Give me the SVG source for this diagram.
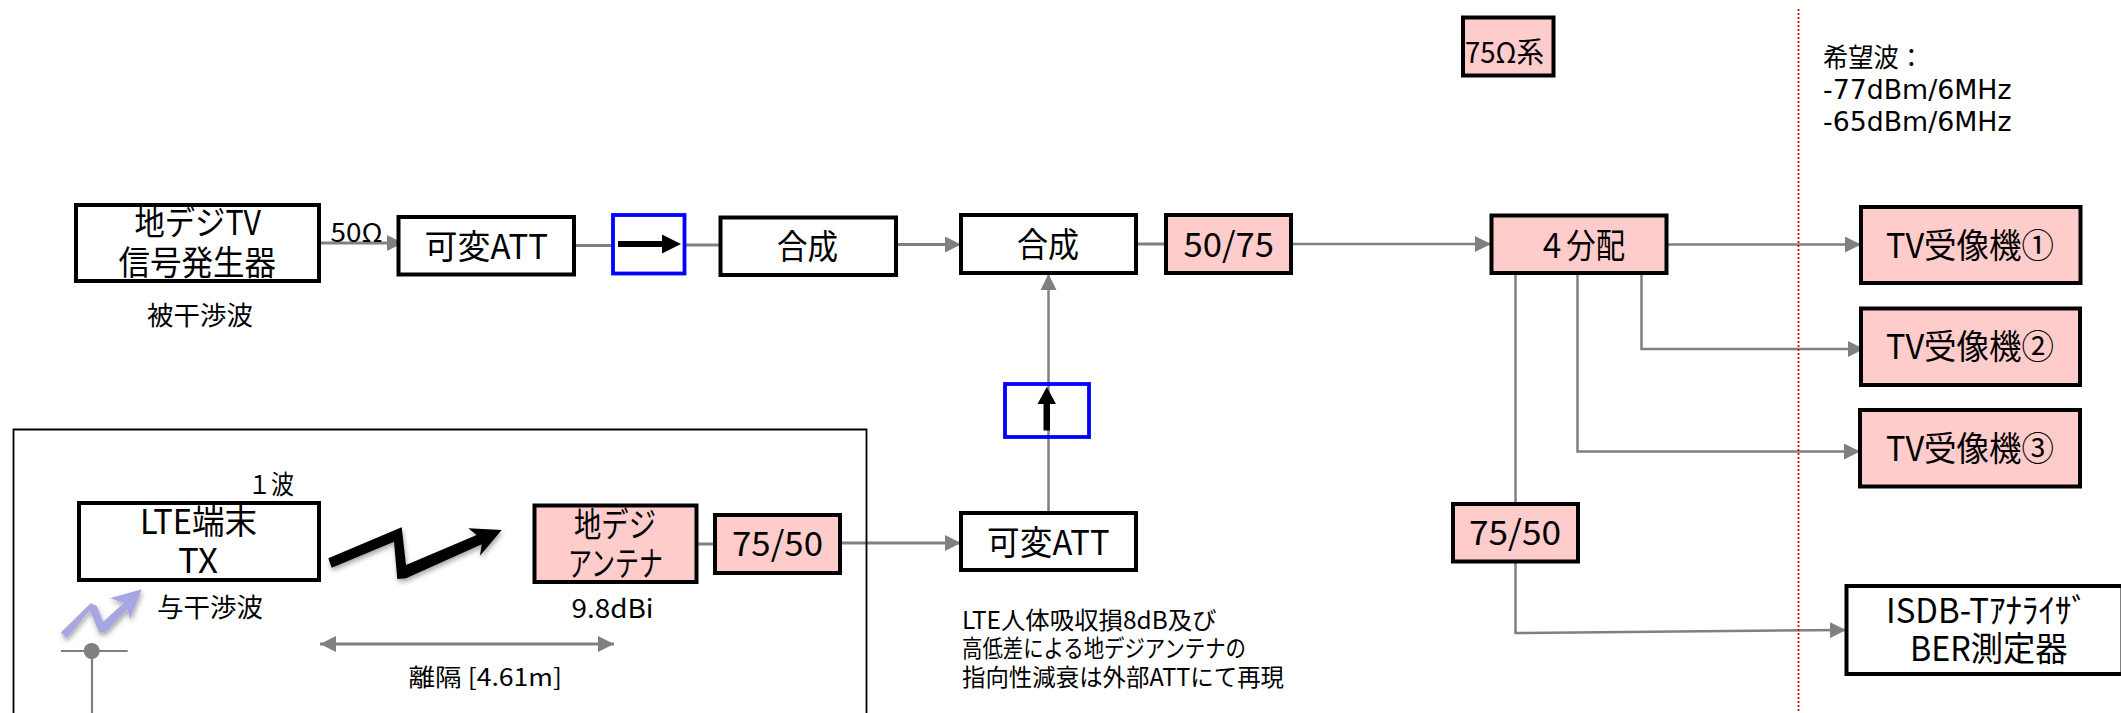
<svg xmlns="http://www.w3.org/2000/svg" width="2121" height="713" viewBox="0 0 2121 713">
<style>
text{font-family:"Noto Sans CJK JP","Noto Sans",sans-serif;fill:#000}
.b{fill:#fff;stroke:#000;stroke-width:4}
.p{fill:#ffcccc;stroke:#000;stroke-width:4}
.u{fill:none;stroke:#0000ff;stroke-width:3.8}
.c{fill:none;stroke:#808080;stroke-width:2.5}
.t{font-size:34px}
.s{font-size:26px}
.m{font-size:24px}
.l{font-family:"DejaVu Sans","Noto Sans CJK JP",sans-serif;font-size:26px}
</style>
<defs>
<marker id="a" markerUnits="userSpaceOnUse" markerWidth="16" markerHeight="16" refX="16" refY="8" orient="auto-start-reverse"><path d="M0,0L16,8L0,16z" fill="#808080"/></marker>
<filter id="sh" x="-20%" y="-20%" width="140%" height="150%"><feDropShadow dx="1" dy="3" stdDeviation="2.5" flood-color="#000" flood-opacity="0.35"/></filter>
</defs>
<g id="connectors">
<path class="c" d="M319,243H403" marker-end="url(#a)" style="stroke-width:3"/>
<path class="c" d="M574,245.500H613M684,245H721" style="stroke-width:3"/>
<path class="c" d="M896,244.500H961" marker-end="url(#a)" style="stroke-width:3"/>
<path class="c" d="M1136,244H1166" style="stroke-width:3"/>
<path class="c" d="M1291,244H1491" marker-end="url(#a)"/>
<path class="c" d="M1666,244.500H1861" marker-end="url(#a)"/>
<path class="c" d="M1641.500,273V349H1864" marker-end="url(#a)"/>
<path class="c" d="M1577.500,273V451.500H1860" marker-end="url(#a)"/>
<path class="c" d="M1515.500,273V504"/>
<path class="c" d="M1515.500,561V633L1846,630" marker-end="url(#a)"/>
<path class="c" d="M1048.500,513V274" marker-end="url(#a)"/>
<path class="c" d="M696,544H715" style="stroke-width:3"/>
<path class="c" d="M840,543H961" marker-end="url(#a)" style="stroke-width:3"/>
<path class="c" d="M320,644H614" marker-start="url(#a)" marker-end="url(#a)" style="stroke-width:3"/>
</g>
<g id="area"><path d="M13.500,713V429.500H866.500V713" fill="none" stroke="#000" stroke-width="1.800"/></g>
<g id="divider"><path d="M1798.500,9V713" fill="none" stroke="#e00000" stroke-width="1.800" stroke-dasharray="2 2"/></g>

<g id="n-signal"><rect class="b" x="76" y="205" width="243" height="76"/>
<text class="t" x="134.500" y="235" textLength="126.500" lengthAdjust="spacingAndGlyphs">地デジTV</text>
<text class="t" x="118.500" y="275" textLength="157.500" lengthAdjust="spacingAndGlyphs">信号発生器</text></g>
<g id="l-50"><text class="s" x="330.500" y="242" textLength="52" lengthAdjust="spacingAndGlyphs">50Ω</text></g>
<g id="l-hikan"><text class="s" x="147" y="325" textLength="106" lengthAdjust="spacingAndGlyphs">被干渉波</text></g>
<g id="n-att1"><rect class="b" x="398.500" y="217" width="175.500" height="57.500"/>
<text class="t" x="424.500" y="259" textLength="123.500" lengthAdjust="spacingAndGlyphs">可変ATT</text></g>
<g id="n-iso1"><rect class="u" x="613" y="215" width="71.500" height="58.500"/>
<path d="M618,241H662V234.500L681,244L662,253.500V247H618z" fill="#000"/></g>
<g id="n-comb1"><rect class="b" x="720.500" y="217.500" width="175.500" height="57.500"/>
<text class="t" x="777" y="259" textLength="61" lengthAdjust="spacingAndGlyphs">合成</text></g>
<g id="n-comb2"><rect class="b" x="961" y="215" width="175" height="58"/>
<text class="t" x="1017" y="257" textLength="62" lengthAdjust="spacingAndGlyphs">合成</text></g>
<g id="n-5075"><rect class="p" x="1166" y="215" width="125" height="58"/>
<text class="t" x="1183.500" y="257" textLength="90.500" lengthAdjust="spacingAndGlyphs">50/75</text></g>
<g id="n-iso2"><rect class="u" x="1005" y="384" width="84" height="53"/>
<path d="M1043.500,430.500V404H1037.500L1046.800,387L1056,404H1050V430.500z" fill="#000"/></g>
<g id="n-att2"><rect class="b" x="961" y="513" width="175" height="57"/>
<text class="t" x="987" y="555" textLength="122.500" lengthAdjust="spacingAndGlyphs">可変ATT</text></g>
<g id="l-note">
<text class="m" x="962" y="628.500" textLength="254.500" lengthAdjust="spacingAndGlyphs">LTE人体吸収損8dB及び</text>
<text class="m" x="962" y="657" textLength="284" lengthAdjust="spacingAndGlyphs">高低差による地デジアンテナの</text>
<text class="m" x="962" y="686" textLength="322" lengthAdjust="spacingAndGlyphs">指向性減衰は外部ATTにて再現</text></g>

<g id="n-lte"><rect class="b" x="79" y="503" width="240" height="77"/>
<text class="t" x="140" y="534" textLength="117" lengthAdjust="spacingAndGlyphs">LTE端末</text>
<text class="t" x="178" y="573" textLength="40" lengthAdjust="spacingAndGlyphs">TX</text></g>
<g id="l-1ha"><text class="s" x="248" y="494" textLength="46" lengthAdjust="spacingAndGlyphs">１波</text></g>
<g id="l-yokan"><text class="s" x="157" y="617" textLength="106" lengthAdjust="spacingAndGlyphs">与干渉波</text></g>
<g id="bolt-black"><path d="M328.300,558.300L401.700,527.300L406,565L476.700,535L468.300,528.300L501.700,530L480,555.700L481.700,544.300L406,578.300L397.300,579L394,541.700L331.700,567.700z" fill="#000" filter="url(#sh)"/></g>
<g id="bolt-purple"><path d="M60.700,632.700L90.700,603.300L96.700,606L103.300,621.700L124,602.700L110,598.300L141.700,589.300L130,619.300L127.300,609.300L106,631.700L99.300,632.700L90,610L66.700,638.300z" fill="#a6a6e0" filter="url(#sh)"/></g>
<g id="antenna"><path d="M61,651H127.700M92,651V713" fill="none" stroke="#808080" stroke-width="2.200"/><circle cx="91.700" cy="651" r="8" fill="#808080"/></g>
<g id="n-ant"><rect class="p" x="534.500" y="505.500" width="162" height="76.500"/>
<text class="t" x="574" y="537" textLength="82" lengthAdjust="spacingAndGlyphs">地デジ</text>
<text class="t" x="568" y="576" textLength="95" lengthAdjust="spacingAndGlyphs">アンテナ</text></g>
<g id="l-gain"><text class="s" x="571.500" y="618" textLength="82" lengthAdjust="spacingAndGlyphs">9.8dBi</text></g>
<g id="l-dist"><text class="m" x="408.500" y="686" textLength="153.500" lengthAdjust="spacingAndGlyphs">離隔 [4.61m]</text></g>
<g id="n-7550a"><rect class="p" x="715" y="515" width="125" height="58"/>
<text class="t" x="732" y="556" textLength="91" lengthAdjust="spacingAndGlyphs">75/50</text></g>

<g id="n-75"><rect class="p" x="1463" y="17.500" width="90.500" height="58"/>
<text x="1465" y="63" textLength="79" lengthAdjust="spacingAndGlyphs" style="font-size:29px">75Ω系</text></g>
<g id="l-want">
<text class="l" x="1823" y="67" textLength="101" lengthAdjust="spacingAndGlyphs">希望波：</text>
<text class="l" x="1823" y="99" textLength="188.500" lengthAdjust="spacingAndGlyphs">-77dBm/6MHz</text>
<text class="l" x="1823" y="131" textLength="188.500" lengthAdjust="spacingAndGlyphs">-65dBm/6MHz</text></g>
<g id="n-split"><rect class="p" x="1491.500" y="215.500" width="175" height="57.500"/>
<text class="t" x="1537" y="258" textLength="88" lengthAdjust="spacingAndGlyphs">４分配</text></g>
<g id="n-tv1"><rect class="p" x="1861" y="207" width="219.500" height="76"/>
<text class="t" x="1886" y="258" textLength="168" lengthAdjust="spacingAndGlyphs">TV受像機①</text></g>
<g id="n-tv2"><rect class="p" x="1861" y="308.500" width="219" height="76.500"/>
<text class="t" x="1886" y="359" textLength="168" lengthAdjust="spacingAndGlyphs">TV受像機②</text></g>
<g id="n-tv3"><rect class="p" x="1860" y="410" width="220" height="76.500"/>
<text class="t" x="1886" y="461" textLength="168" lengthAdjust="spacingAndGlyphs">TV受像機③</text></g>
<g id="n-7550b"><rect class="p" x="1453" y="504" width="125" height="57.500"/>
<text class="t" x="1469" y="545" textLength="92" lengthAdjust="spacingAndGlyphs">75/50</text></g>
<g id="n-isdb"><rect class="b" x="1846.500" y="586" width="276" height="88"/>
<text class="t" x="1886" y="623" textLength="202" lengthAdjust="spacingAndGlyphs">ISDB-Tｱﾅﾗｲｻﾞ</text>
<text class="t" x="1910" y="661" textLength="157.500" lengthAdjust="spacingAndGlyphs">BER測定器</text></g>
</svg>
